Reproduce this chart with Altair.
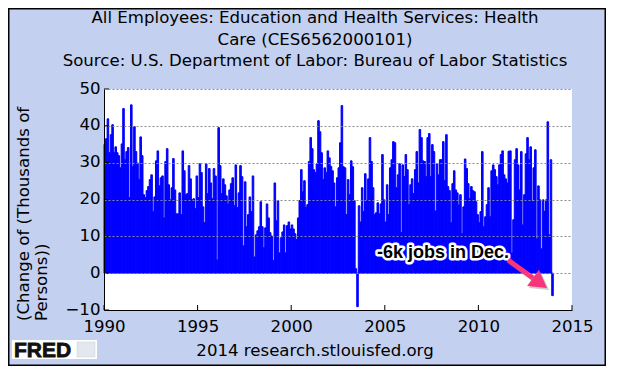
import altair as alt
import pandas as pd

# Monthly change, thousands of persons (Jan..Dec of each year)
v1990 = [35.0, 36.5, 41.9, 32.7, 37.6, 40.3, 32.7, 34.3, 32.7, 31.9, 28.6, 35.1]
v1991 = [44.7, 30.8, 33.0, 34.1, 20.5, 45.7, 28.9, 39.8, 33.0, 29.9, 25.4, 37.0]
v1992 = [31.9, 21.3, 20.5, 22.4, 23.5, 25.4, 26.7, 16.7, 20.7, 30.5, 33.2, 23.7]
v1993 = [25.9, 26.4, 15.0, 30.3, 33.8, 24.0, 19.9, 23.2, 31.1, 22.6, 16.1, 16.1]
v1994 = [21.8, 15.9, 33.2, 27.8, 21.3, 21.6, 29.2, 25.6, 19.9, 20.2, 17.5, 26.4]
v1995 = [20.5, 29.7, 27.3, 18.0, 13.7, 29.7, 21.6, 28.4, 24.5, 20.2, 28.4, 26.4]
v1996 = [3.6, 39.5, 29.2, 21.6, 25.6, 24.0, 21.0, 18.8, 22.6, 24.3, 25.9, 18.3]
v1997 = [29.4, 17.8, 21.8, 29.2, 26.2, 7.4, 24.8, 12.6, 15.9, 20.7, 16.7, 26.4]
v1998 = [4.4, 10.4, 11.5, 12.6, 19.4, 12.6, 6.9, 12.3, 18.8, 15.0, 11.0, 10.1]
v1999 = [3.4, 24.5, 14.2, 19.7, 5.5, 9.6, 11.2, 13.1, 5.5, 12.9, 13.9, 12.0]
v2000 = [13.1, 12.0, 10.7, 9.1, 15.0, 19.7, 28.1, 22.1, 25.1, 17.8, 18.6, 30.3]
v2001 = [36.8, 33.8, 28.1, 27.3, 29.7, 41.4, 38.4, 32.7, 25.4, 28.6, 27.3, 33.2]
v2002 = [31.3, 29.0, 27.8, 24.5, 18.0, 25.9, 28.6, 35.4, 45.5, 28.9, 28.6, 15.9]
v2003 = [25.4, 21.3, 30.5, 28.9, 19.7, 1.2, -9.1, 18.3, 13.9, 23.2, 16.7, 27.0]
v2004 = [19.7, 25.6, 36.8, 30.3, 23.2, 15.9, 16.4, 19.1, 16.1, 18.8, 32.2, 19.9]
v2005 = [13.9, 24.0, 15.9, 28.6, 30.8, 35.7, 35.4, 23.2, 26.7, 29.7, 11.0, 29.4]
v2006 = [26.2, 32.2, 28.1, 18.6, 24.0, 25.6, 21.6, 28.1, 33.0, 24.5, 39.0, 36.8]
v2007 = [30.5, 30.3, 26.2, 36.8, 37.9, 26.2, 34.9, 33.0, 16.9, 29.7, 26.7, 30.8]
v2008 = [30.8, 35.7, 25.1, 37.6, 23.5, 22.4, 13.7, 24.3, 27.8, 22.6, 21.8, 18.5]
v2009 = [21.3, 10.7, 18.0, 31.0, 28.4, 24.3, 20.2, 23.5, 22.4, 22.1, 19.4, 15.9]
v2010 = [13.7, 16.7, 33.0, 12.6, 15.3, 18.6, 23.2, 15.3, 27.8, 29.4, 28.1, 26.2]
v2011 = [24.0, 29.4, 32.2, 33.2, 26.7, 25.6, 24.5, 33.1, 33.2, 5.5, 14.5, 30.8]
v2012 = [33.8, 29.4, 22.6, 33.0, 13.1, 21.3, 32.4, 36.8, 30.8, 34.3, 19.4, 28.6]
v2013 = [33.5, 9.3, 23.7, 19.9, 6.6, 19.9, 16.8, 19.9, 41.1, 10.4, 30.8, -6.1]

years = list(range(1990, 2014))
series = [v1990, v1991, v1992, v1993, v1994, v1995, v1996, v1997, v1998, v1999,
          v2000, v2001, v2002, v2003, v2004, v2005, v2006, v2007, v2008, v2009,
          v2010, v2011, v2012, v2013]

x_ticks = [1990, 1995, 2000, 2005, 2010, 2015]
y_ticks = [-10, 0, 10, 20, 30, 40, 50]

title_lines = ["All Employees: Education and Health Services: Health",
               "Care (CES6562000101)",
               "Source: U.S. Department of Labor: Bureau of Labor Statistics"]
y_title = ["(Change of (Thousands of", "Persons))"]
footer = "2014 research.stlouisfed.org"
note = "-6k jobs in Dec."

rows = []
for yr, vals in zip(years, series):
    for m, v in enumerate(vals):
        t = yr + m / 12.0
        rows.append({"t": t, "t2": t + 1 / 12.0, "v": v, "z": 0})
df = pd.DataFrame(rows)

W, H = 468, 221
FONT = "DejaVu Sans"
FS = 16.6
xs = alt.Scale(domain=[1990, 2015], nice=False, zero=False)
ys = alt.Scale(domain=[-10, 50], nice=False, zero=False)

xaxis = alt.Axis(values=x_ticks, format="d", title=None, ticks=False, grid=False,
                 labelFont=FONT, labelFontSize=FS, labelColor="black", labelPadding=8,
                 labelFlush=False, labelOverlap=False, domainColor="black", zindex=1)
yaxis = alt.Axis(values=y_ticks, format="d", title=None, ticks=False, grid=True,
                 gridColor="#8a8a8a", gridDash=[2, 2], labelFont=FONT, labelFontSize=FS,
                 labelColor="black", labelPadding=4, labelOffset=-1, labelOverlap=False,
                 domainColor="black", zindex=1)

one = pd.DataFrame({"a": [0]})


def txt(s, x, y, **kw):
    return alt.Chart(pd.DataFrame({"s": [s]})).mark_text(**kw).encode(
        text="s:N", x=alt.value(x), y=alt.value(y))


border = alt.Chart(one).mark_rect(fillOpacity=0, stroke="black", strokeWidth=1.5).encode(
    x=alt.value(-95.25), x2=alt.value(501.25), y=alt.value(-80.25), y2=alt.value(276.25))

bars = alt.Chart(df).mark_bar(color="#0000FF", stroke="#0000FF", strokeWidth=1.0).encode(
    x=alt.X("t:Q", scale=xs, axis=xaxis),
    x2="t2:Q",
    y=alt.Y("v:Q", scale=ys, axis=yaxis),
    y2="z:Q",
)

xt = alt.Chart(pd.DataFrame({"t": x_ticks})).mark_rule(color="black").encode(
    x=alt.X("t:Q", scale=xs, axis=xaxis), y=alt.value(H - 5), y2=alt.value(H))
yt = alt.Chart(pd.DataFrame({"v": y_ticks})).mark_rule(color="black").encode(
    y=alt.Y("v:Q", scale=ys, axis=yaxis), x=alt.value(0), x2=alt.value(5))

titles = [txt(s, 211, y, font=FONT, fontSize=FS, align="center", baseline="alphabetic", color="black")
          for s, y in zip(title_lines, [-66, -44, -23])]
ytitles = [txt(s, x, 232, font=FONT, fontSize=FS, align="left", baseline="alphabetic", angle=270, color="black")
           for s, x in zip(y_title, [-75, -57])]
foot = txt(footer, 211, 267, font=FONT, fontSize=FS, align="center", baseline="alphabetic", color="black")

logo_box = alt.Chart(one).mark_rect(fill="white").encode(
    x=alt.value(-92), x2=alt.value(-7), y=alt.value(251), y2=alt.value(270))
logo_icon = alt.Chart(one).mark_rect(fill="#e3e8ee", stroke="#c8ccd4", strokeWidth=0.5).encode(
    x=alt.value(-27), x2=alt.value(-9), y=alt.value(253), y2=alt.value(268))
logo = txt("FRED", -90, 268, font="Liberation Sans", fontSize=21, fontWeight="bold",
           align="left", baseline="alphabetic", color="#111111", stroke="#111111", strokeWidth=0.8)

note_halo = txt(note, 273, 164, font="Liberation Sans", fontSize=18, fontWeight="bold", align="left",
                baseline="middle", color="white", stroke="white", strokeWidth=5, strokeJoin="round")
note_text = txt(note, 273, 164, font="Liberation Sans", fontSize=18, fontWeight="bold", align="left",
                baseline="middle", color="black")

PINK = "#F8357A"
shadow_shaft = alt.Chart(one).mark_rule(color="#808080", strokeWidth=5, opacity=0.4).encode(
    x=alt.value(406), y=alt.value(173), x2=alt.value(431), y2=alt.value(191))
shadow_head = alt.Chart(one).mark_point(shape="triangle-up", filled=True, color="#808080", opacity=0.4,
                                        size=400, angle=126).encode(x=alt.value(438), y=alt.value(196))
shaft = alt.Chart(one).mark_rule(color=PINK, strokeWidth=5).encode(
    x=alt.value(404), y=alt.value(171), x2=alt.value(429), y2=alt.value(189))
head = alt.Chart(one).mark_point(shape="triangle-up", filled=True, color=PINK, opacity=1,
                                 size=400, angle=126).encode(x=alt.value(436), y=alt.value(194))

chart = alt.layer(
    border, bars, xt, yt, *titles, *ytitles, foot, logo_box, logo_icon, logo,
    note_halo, note_text, shadow_shaft, shadow_head, shaft, head
).properties(
    width=W, height=H,
    padding={"left": 96, "top": 81, "right": 34, "bottom": 56},
    autosize=alt.AutoSizeParams(type="none"),
    background="#C3D0F0",
).configure_view(fill="white", strokeWidth=0)

chart.save("out.html", embed_options={"renderer": "svg", "actions": False})
